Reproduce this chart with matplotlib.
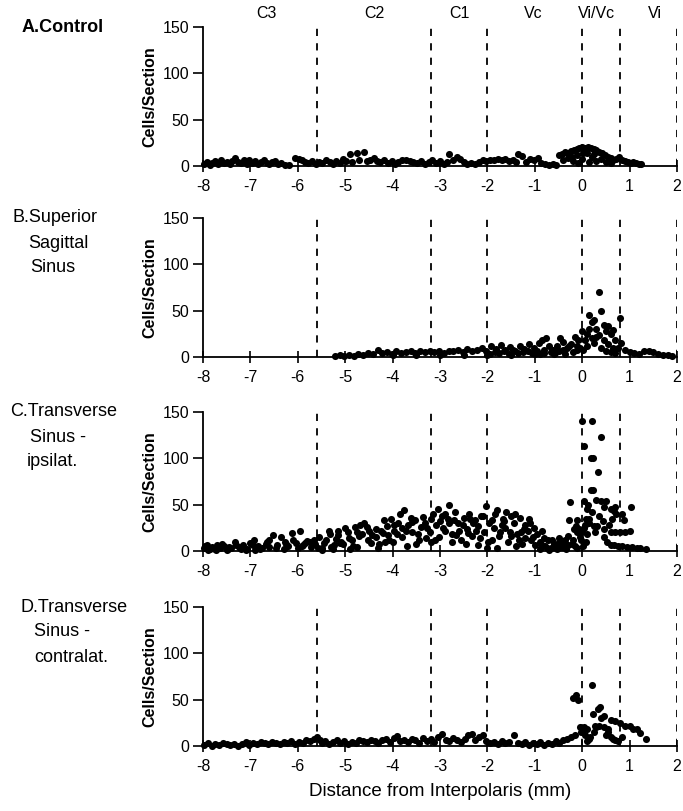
import matplotlib
matplotlib.use('Agg')
import matplotlib.pyplot as plt

plt.rcParams['font.family'] = ['Liberation Sans', 'DejaVu Sans']
plt.rcParams['axes.unicode_minus'] = False

# region borders (mm from interpolaris) and their names
borders = [-5.6, -3.2, -2.0, 0.0, 0.8, 2.0]
region_names = ['C3', 'C2', 'C1', 'Vc', 'Vi/Vc', 'Vi']
region_pos = [-6.67, -4.38, -2.59, -1.03, 0.30, 1.54]

xticks = [-8, -7, -6, -5, -4, -3, -2, -1, 0, 1, 2]
yticks = [0, 50, 100, 150]

# A. Control
a_x = [
    -7.98, -7.92, -7.86, -7.80, -7.74, -7.68, -7.62, -7.56, -7.50, -7.44,
    -7.38, -7.32, -7.26, -7.20, -7.14, -7.08, -7.02, -6.96, -6.90, -6.84,
    -6.78, -6.72, -6.66, -6.60, -6.54, -6.48, -6.42, -6.36, -6.28, -6.18,
    -6.05, -5.98, -5.92, -5.85, -5.78, -5.70, -5.62, -5.55, -5.48, -5.40,
    -5.33, -5.26, -5.19, -5.12, -5.05, -4.98, -4.90, -4.75, -4.60, -4.86,
    -4.70, -4.55, -4.48, -4.40, -4.33, -4.26, -4.18, -4.10, -4.02, -3.95,
    -3.88, -3.80, -3.72, -3.64, -3.56, -3.48, -3.40, -3.32, -3.24, -3.16,
    -3.08, -3.00, -2.92, -2.85, -2.80, -2.72, -2.65, -2.58, -2.50, -2.42,
    -2.34, -2.26, -2.18, -2.10, -2.02, -1.94, -1.86, -1.78, -1.70, -1.62,
    -1.54, -1.46, -1.40, -1.35, -1.26, -1.18, -1.10, -1.02, -0.94, -0.86,
    -0.78, -0.70, -0.62, -0.55, -0.48, -0.42, -0.36, -0.30, -0.24, -0.18,
    -0.12, -0.06, 0.00, 0.06, 0.12, 0.18, 0.24, 0.30, 0.36, 0.42,
    0.48, 0.54, 0.60, 0.66, 0.72, 0.78, 0.84, 0.90, 0.96, 1.02,
    1.08, 1.14, 1.20, 1.25, -0.40, -0.30, -0.20, -0.10, 0.00, 0.10,
    0.20, 0.30, 0.40, 0.50, 0.60, -0.22, 0.25, 0.02, -0.08, 0.15,
]
a_y = [
    2, 4, 1, 3, 5, 2, 6, 3, 4, 2,
    5, 9, 4, 3, 6, 2, 7, 3, 5, 2,
    4, 6, 3, 2, 4, 5, 2, 3, 1, 1,
    9, 8, 6, 4, 3, 5, 2, 4, 3, 6,
    4, 2, 5, 3, 8, 5, 13, 14, 15, 4,
    6, 5, 7, 9, 5, 4, 6, 3, 5, 2,
    4, 6, 7, 5, 4, 3, 5, 2, 4, 6,
    3, 5, 2, 4, 13, 6, 10, 8, 4, 2,
    3, 2, 4, 6, 5, 7, 6, 8, 6, 8,
    5, 7, 4, 13, 11, 4, 8, 6, 9, 3,
    2, 1, 2, 1, 12, 13, 15, 14, 16, 17,
    18, 19, 20, 19, 20, 19, 18, 17, 15, 14,
    12, 10, 9, 7, 8, 10, 6, 5, 4, 3,
    4, 3, 2, 2, 6, 9, 5, 12, 8, 14,
    10, 5, 8, 4, 3, 10, 13, 14, 3, 4,
]

# B. Superior sagittal sinus
b_x = [
    -5.22, -5.12, -5.02, -4.92, -4.82, -4.72, -4.62, -4.52, -4.42, -4.30,
    -4.22, -4.12, -4.02, -3.92, -3.82, -3.72, -3.62, -3.52, -3.42, -3.32,
    -3.22, -3.12, -3.02, -2.92, -2.82, -2.72, -2.62, -2.52, -2.42, -2.32,
    -2.22, -2.12, -2.02, -1.92, -1.82, -1.72, -1.62, -1.52, -1.42, -1.32,
    -1.22, -1.12, -1.02, -0.92, -0.84, -0.76, -0.70, -0.62, -0.54, -0.46,
    -0.40, -0.32, -0.24, -0.16, -0.08, 0.00, 0.05, 0.10, 0.15, 0.20,
    0.25, 0.30, 0.35, 0.40, 0.45, 0.50, 0.55, 0.60, 0.65, 0.70,
    0.75, 0.80, 0.82, 0.90, 1.00, 1.10, 1.20, 1.30, 1.40, 1.50,
    1.60, 1.70, 1.80, 1.90, 0.02, 0.10, 0.20, 0.25, 0.30, 0.40,
    0.45, 0.50, 0.60, 0.70, -0.20, -0.40, -0.60, -0.80, -1.00, -1.50,
    -2.00, -2.50, -3.00, -3.50, -4.00, -0.10, 0.15, 0.35, 0.55, 0.65,
    -1.95, -1.85, -1.75, -1.65, -1.55, -1.45, -1.35, -1.25, -1.15, -1.05,
    -0.95, -0.88, -0.80, -0.66, -0.58, -0.50, -0.36, -0.28, -0.12, -0.04,
]
b_y = [
    1, 2, 1, 2, 1, 3, 2, 4, 3, 8,
    4, 5, 3, 6, 4, 5, 7, 4, 6, 5,
    7, 5, 6, 4, 7, 6, 8, 5, 9, 6,
    8, 10, 7, 12, 9, 13, 8, 11, 6, 12,
    9, 14, 10, 15, 18, 21, 12, 8, 12, 20,
    16, 10, 14, 22, 18, 28, 18, 25, 45, 38,
    40, 30, 70, 50, 35, 28, 33, 25, 29, 18,
    10, 42, 15, 8, 5, 4, 3, 6, 7, 5,
    3, 2, 2, 1, 8, 12, 20, 15, 22, 10,
    18, 6, 5, 4, 5, 8, 3, 4, 3, 2,
    2, 2, 2, 2, 2, 12, 30, 24, 14, 10,
    3, 5, 4, 6, 3, 8, 4, 5, 7, 4,
    6, 3, 8, 5, 4, 6, 3, 12, 8, 10,
]

# C. Transverse sinus - ipsilateral
c_x = [
    -7.98, -7.92, -7.86, -7.80, -7.72, -7.64, -7.56, -7.48, -7.40, -7.32,
    -7.24, -7.16, -7.08, -7.00, -6.92, -6.84, -6.76, -6.68, -6.60, -6.52,
    -6.44, -6.36, -6.28, -6.20, -6.12, -6.04, -5.96, -5.88, -5.80, -5.72,
    -7.90, -7.70, -7.50, -7.20, -6.90, -6.60, -6.30, -6.00, -5.85, -5.65,
    -5.64, -5.56, -5.48, -5.40, -5.32, -5.24, -5.16, -5.08, -5.00, -4.92,
    -4.84, -4.76, -4.68, -4.60, -4.52, -4.44, -4.36, -4.28, -4.20, -4.12,
    -5.50, -5.30, -5.10, -4.90, -4.70, -4.50, -4.30, -4.15, -5.20, -4.80,
    -4.04, -3.96, -3.88, -3.80, -3.75, -3.68, -3.60, -3.52, -3.44, -3.36,
    -3.28, -3.20, -4.00, -3.90, -3.70, -3.60, -3.50, -3.40, -3.30, -3.22,
    -3.80, -4.10, -3.14, -3.08, -3.02, -2.96, -2.90, -2.84, -2.80, -2.74,
    -2.68, -2.62, -2.56, -2.50, -2.44, -2.38, -2.32, -2.26, -2.20, -2.14,
    -2.08, -2.04, -3.10, -3.00, -2.90, -2.75, -2.60, -2.45, -2.30, -2.15,
    -2.00, -2.70, -2.40, -2.20, -1.96, -1.90, -1.84, -1.80, -1.74, -1.68,
    -1.62, -1.56, -1.50, -1.44, -1.38, -1.32, -1.26, -1.20, -1.14, -1.08,
    -1.02, -1.90, -1.80, -1.70, -1.60, -1.50, -1.40, -1.30, -1.20, -1.10,
    -1.00, -0.96, -0.90, -0.84, -0.78, -0.72, -0.66, -0.60, -0.54, -0.48,
    -0.42, -0.36, -0.30, -0.25, -0.90, -0.80, -0.70, -0.60, -0.50, -0.40,
    -0.30, -0.20, -0.15, -0.10, 0.00, 0.21, 0.40, 0.03, 0.18, 0.23,
    0.33, 0.19, 0.23, 0.03, 0.39, 0.50, 0.70, 1.04, 0.10, 0.46,
    0.60, 0.67, 0.85, -0.10, 0.07, 0.62, 0.88, 0.25, 0.32, 0.46,
    0.60, 0.70, 0.80, 0.90, 1.00, -0.14, -0.07, 0.46, 0.53, 0.60,
    0.67, 0.75, 0.85, 0.95, 1.05, 1.15, 1.22, 1.35, 0.00, 0.05,
    0.10, 0.15, 0.08, 0.02, -0.05, 0.20, 0.30, 0.12, -0.27, -0.18,
    -7.95, -7.75, -7.60, -7.45, -7.30, -7.10, -6.95, -6.80, -6.65, -6.45,
    -6.25, -6.10, -5.92, -5.75, -5.58, -5.45, -5.35, -5.25, -5.15, -5.05,
    -4.95, -4.85, -4.75, -4.65, -4.55, -4.45, -4.35, -4.25, -4.18, -4.08,
    -3.98, -3.85, -3.72, -3.62, -3.46, -3.32, -3.18, -3.05, -2.93, -2.82,
    -2.66, -2.52, -2.36, -2.24, -2.10, -1.98, -1.86, -1.76, -1.64, -1.52,
    -1.42, -1.34, -1.22, -1.12, -1.04, -0.86, -0.74, -0.64, -0.52, -0.35,
    -0.22, -0.12, -0.02, 0.04, 0.14, 0.26, 0.36, 0.44, 0.56, 0.72,
]
c_y = [
    3, 6, 2, 4, 1, 3, 5, 2, 3, 10,
    4, 7, 2, 9, 12, 5, 3, 8, 12, 17,
    6, 15, 10, 5, 19, 9, 22, 7, 11, 4,
    1, 6, 1, 2, 1, 4, 2, 3, 9, 12,
    8, 15, 3, 12, 18, 6, 22, 10, 25, 14,
    5, 20, 28, 30, 12, 17, 24, 8, 19, 27,
    1, 4, 9, 2, 16, 22, 3, 10, 13, 26,
    35, 22, 30, 15, 44, 28, 20, 33, 12, 37,
    25, 34, 10, 18, 5, 31, 8, 26, 14, 20,
    25, 17, 40, 28, 15, 38, 22, 35, 50, 18,
    42, 30, 12, 36, 24, 40, 16, 33, 27, 38,
    20, 49, 12, 32, 40, 10, 22, 8, 30, 14,
    3, 33, 19, 6, 30, 12, 40, 44, 20, 35,
    25, 10, 38, 30, 18, 36, 8, 28, 22, 12,
    25, 33, 3, 28, 42, 16, 5, 20, 14, 30,
    6, 18, 10, 22, 5, 12, 3, 8, 2, 10,
    4, 12, 7, 53, 2, 14, 1, 4, 14, 8,
    16, 12, 5, 20, 140, 140, 123, 113, 100, 100,
    85, 66, 66, 54, 54, 54, 48, 47, 45, 47,
    45, 43, 40, 33, 34, 34, 33, 27, 27, 24,
    20, 20, 20, 20, 22, 27, 24, 15, 10, 7,
    6, 5, 5, 4, 4, 3, 3, 2, 20, 28,
    18, 30, 10, 5, 15, 42, 55, 50, 33, 24,
    5, 2, 8, 4, 6, 1, 7, 2, 10, 3,
    8, 12, 5, 10, 3, 9, 22, 2, 17, 8,
    20, 12, 4, 18, 26, 9, 15, 22, 33, 12,
    28, 40, 22, 36, 18, 30, 10, 45, 25, 30,
    17, 28, 35, 22, 38, 10, 25, 16, 32, 20,
    40, 12, 24, 35, 15, 8, 3, 12, 6, 2,
    8, 3, 12, 25, 35, 20, 38, 32, 28, 40,
]

# D. Transverse sinus - contralateral
d_x = [
    -7.98, -7.90, -7.82, -7.74, -7.66, -7.58, -7.50, -7.42, -7.34, -7.26,
    -7.18, -7.10, -7.02, -6.94, -6.86, -6.78, -6.70, -6.62, -6.54, -6.46,
    -6.38, -6.30, -6.22, -6.14, -6.06, -5.98, -5.90, -5.82, -5.74, -5.66,
    -5.60, -5.54, -5.48, -5.42, -5.34, -5.26, -5.18, -5.10, -5.02, -4.94,
    -4.86, -4.78, -4.70, -4.62, -4.54, -4.46, -4.38, -4.30, -4.22, -4.14,
    -4.06, -3.98, -3.90, -3.84, -3.76, -3.68, -3.60, -3.52, -3.44, -3.36,
    -3.28, -3.20, -3.12, -3.04, -2.96, -2.88, -2.80, -2.72, -2.64, -2.56,
    -2.48, -2.40, -2.33, -2.26, -2.18, -2.10, -2.02, -1.94, -1.86, -1.78,
    -1.70, -1.62, -1.54, -1.44, -1.36, -1.28, -1.20, -1.12, -1.04, -0.96,
    -0.88, -0.80, -0.72, -0.64, -0.56, -0.48, -0.40, -0.32, -0.24, -0.20,
    -0.16, -0.14, -0.08, -0.02, 0.04, 0.10, 0.16, 0.20, 0.22, 0.28,
    0.34, 0.38, 0.45, 0.50, 0.55, 0.60, 0.65, 0.70, 0.75, 0.80,
    0.85, 0.90, 1.00, 1.08, 1.15, 1.22, 1.35, 0.00, 0.05, 0.10,
    0.15, 0.25, 0.30, 0.35, 0.45, 0.55, 0.60, 0.70, -0.05, 0.40,
]
d_y = [
    1, 3, 0, 2, 1, 3, 2, 1, 2, 0,
    2, 4, 1, 3, 2, 4, 3, 2, 4, 3,
    2, 4, 3, 5, 2, 4, 3, 6, 5, 8,
    10, 7, 3, 5, 2, 4, 6, 3, 5, 2,
    4, 3, 6, 5, 4, 7, 5, 3, 6, 8,
    4, 9, 11, 5, 7, 4, 8, 6, 3, 9,
    5, 8, 4, 10, 13, 7, 5, 9, 6, 4,
    8, 12, 13, 6, 10, 12, 5, 3, 4, 2,
    5, 3, 4, 12, 3, 2, 4, 1, 3, 2,
    4, 1, 3, 2, 5, 3, 6, 8, 10, 52,
    12, 55, 50, 15, 20, 18, 10, 66, 35, 22,
    40, 42, 32, 12, 18, 28, 8, 27, 5, 25,
    10, 22, 22, 18, 18, 14, 8, 18, 12, 5,
    8, 15, 20, 22, 20, 15, 10, 6, 20, 30,
]

panels = [
    (a_x, a_y, ['A.Control']),
    (b_x, b_y, ['B.Superior', 'Sagittal', 'Sinus']),
    (c_x, c_y, ['C.Transverse', 'Sinus -', 'ipsilat.']),
    (d_x, d_y, ['D.Transverse', 'Sinus -', 'contralat.']),
]

W, H = 683, 811
fig = plt.figure(figsize=(W / 100, H / 100), dpi=100)

ax_tops = [27, 218, 412, 607]      # pixel rows of y=150
ax_h = 139
label_left = [(22,), (12, 28, 30), (10, 30, 27), (20, 34, 34)]

for i, (xs, ys, lab) in enumerate(panels):
    top = ax_tops[i]
    ax = fig.add_axes([203 / W, 1 - (top + ax_h) / H, 474 / W, ax_h / H])
    ax.vlines(borders, 0, 150, colors='k', linestyles=(0, (4, 4)), lw=1.3)
    ax.scatter(xs, ys, s=26, c='k', linewidths=0, clip_on=False, zorder=3)
    ax.set_xlim(-8, 2)
    ax.set_ylim(0, 150)
    ax.set_xticks(xticks)
    ax.set_yticks(yticks)
    ax.spines['top'].set_visible(False)
    ax.spines['right'].set_visible(False)
    ax.spines['left'].set_linewidth(1.3)
    ax.spines['bottom'].set_linewidth(1.3)
    ax.tick_params(axis='x', direction='inout', length=9, width=1.2,
                   labelsize=11.5, pad=5)
    ax.tick_params(axis='y', direction='out', length=7, width=1.2,
                   labelsize=11.5, pad=3)
    ax.set_ylabel('Cells/Section', fontsize=11.5, fontweight='bold', labelpad=4)

    for j, line in enumerate(lab):
        fig.text(label_left[i][j] / W, 1 - (top + 25 * j) / H, line,
                 fontsize=13, ha='left', va='center',
                 fontweight='bold' if i == 0 else 'normal')

    if i == 0:
        for name, xp in zip(region_names, region_pos):
            ax.text(xp, 1.10, name, transform=ax.get_xaxis_transform(),
                    ha='center', va='center', fontsize=11.5)
    if i == 3:
        ax.set_xlabel('Distance from Interpolaris (mm)', fontsize=13.5, labelpad=6)

fig.savefig('out.png', dpi=100)
